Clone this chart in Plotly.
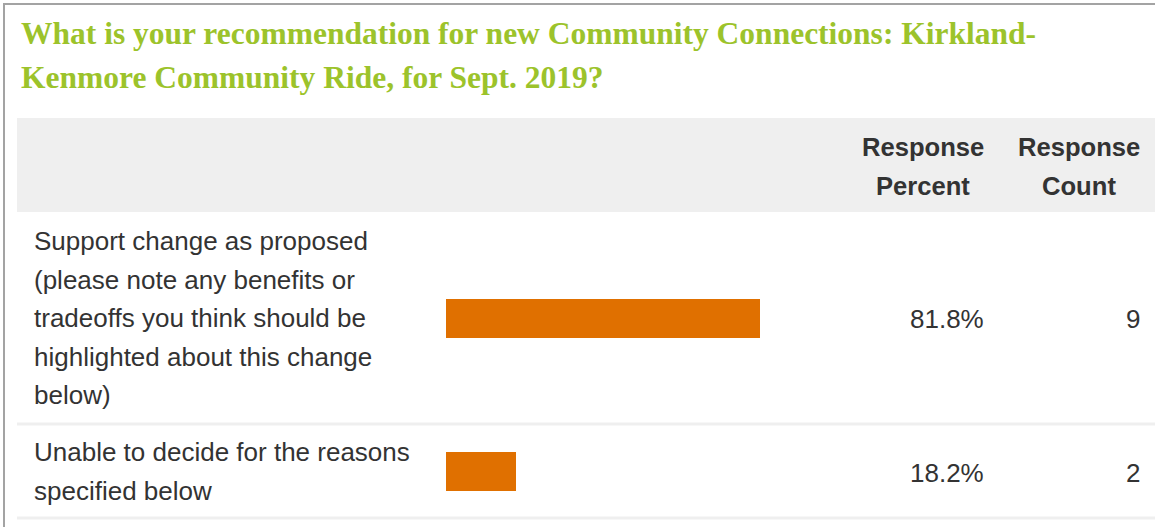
import plotly.graph_objects as go

# ---------------- data ----------------
title_lines = [
    "What is your recommendation for new Community Connections: Kirkland-",
    "Kenmore Community Ride, for Sept. 2019?",
]
header_percent = ["Response", "Percent"]
header_count = ["Response", "Count"]
answer_lines = [
    ["Support change as proposed",
     "(please note any benefits or",
     "tradeoffs you think should be",
     "highlighted about this change",
     "below)"],
    ["Unable to decide for the reasons",
     "specified below"],
]
response_percent = [81.8, 18.2]
response_count = [9, 2]

# ---------------- layout constants (pixels) ----------------
W, H = 1155, 527
BAR_X0, BAR_X1 = 446, 830          # 0% .. 100%
HEADER_TOP, HEADER_BOT = 118, 212
ROW_BOUNDS = [(212, 424), (425, 518)]
LINE_H = 38.5
TITLE_COLOR = "#9cc32b"
BAR_COLOR = "#e07000"
TEXT_COLOR = "#333333"
SANS = "Liberation Sans, Arial, sans-serif"
SERIF = "Liberation Serif, Times New Roman, serif"


def px(x):
    return x / W


def py(y):
    return 1 - y / H


row_centers = [(a + b) / 2 for a, b in ROW_BOUNDS]

fig = go.Figure()
fig.add_trace(go.Bar(
    x=response_percent,
    y=row_centers,
    orientation="h",
    width=39,
    marker=dict(color=BAR_COLOR, line=dict(width=0)),
    hoverinfo="skip",
    showlegend=False,
))

shapes = []
# header band
shapes.append(dict(type="rect", xref="paper", yref="paper",
                   x0=px(17), x1=1, y0=py(HEADER_BOT), y1=py(HEADER_TOP),
                   fillcolor="#efefef", line=dict(width=0), layer="below"))
# row separators
for _, bot in ROW_BOUNDS:
    shapes.append(dict(type="rect", xref="paper", yref="paper",
                       x0=px(17), x1=1, y0=py(bot + 1.5), y1=py(bot - 1.5),
                       fillcolor="#efefef", line=dict(width=0), layer="below"))
# outer border (top and left) as filled strips
shapes.append(dict(type="rect", xref="paper", yref="paper",
                   x0=px(3), x1=1, y0=py(5), y1=py(3),
                   fillcolor="#a3a3a3", line=dict(width=0)))
shapes.append(dict(type="rect", xref="paper", yref="paper",
                   x0=px(3), x1=px(5), y0=0, y1=py(3),
                   fillcolor="#a3a3a3", line=dict(width=0)))

annotations = []
# title
for i, t in enumerate(title_lines):
    annotations.append(dict(
        text="<b>%s</b>" % t, xref="paper", yref="paper",
        x=px(19), y=py(33 + i * 44), xanchor="left", yanchor="middle",
        showarrow=False, font=dict(family=SERIF, size=31.5, color=TITLE_COLOR)))
# header
for cx, lines in [(923, header_percent), (1079, header_count)]:
    for i, t in enumerate(lines):
        annotations.append(dict(
            text="<b>%s</b>" % t, xref="paper", yref="paper",
            x=px(cx), y=py(147 + i * 38.5), xanchor="center", yanchor="middle",
            showarrow=False, font=dict(family=SANS, size=25.6, color=TEXT_COLOR)))
# rows
for r, (lines, pct, cnt) in enumerate(zip(answer_lines, response_percent, response_count)):
    n = len(lines)
    first = row_centers[r] - (n - 1) * LINE_H / 2
    for i, t in enumerate(lines):
        annotations.append(dict(
            text=t, xref="paper", yref="paper",
            x=px(32), y=py(first + i * LINE_H), xanchor="left", yanchor="middle",
            showarrow=False, font=dict(family=SANS, size=26, color=TEXT_COLOR)))
    annotations.append(dict(
        text="%.1f%%" % pct, xref="paper", yref="paper",
        x=px(986), y=py(row_centers[r] + 1), xanchor="right", yanchor="middle",
        showarrow=False, font=dict(family=SANS, size=26, color=TEXT_COLOR)))
    annotations.append(dict(
        text=str(cnt), xref="paper", yref="paper",
        x=px(1142), y=py(row_centers[r] + 1), xanchor="right", yanchor="middle",
        showarrow=False, font=dict(family=SANS, size=26, color=TEXT_COLOR)))

fig.update_layout(
    width=W, height=H,
    margin=dict(l=0, r=0, t=0, b=0),
    paper_bgcolor="white", plot_bgcolor="rgba(0,0,0,0)",
    xaxis=dict(domain=[px(BAR_X0), px(BAR_X1)], range=[0, 100], visible=False,
               fixedrange=True),
    yaxis=dict(domain=[0, 1], range=[H, 0], visible=False, fixedrange=True),
    shapes=shapes,
    annotations=annotations,
    bargap=0,
)

fig.write_html(
    "out.html",
    config={"displayModeBar": False},
    post_script="document.body.style.margin='0';document.body.style.overflow='hidden';",
)
